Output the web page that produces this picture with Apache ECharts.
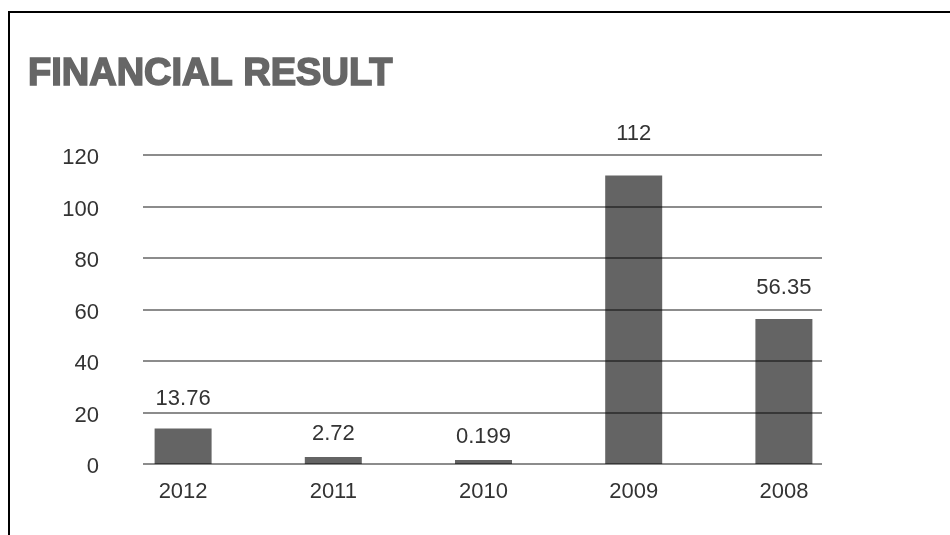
<!DOCTYPE html>
<html>
<head>
<meta charset="utf-8">
<script src="https://cdn.jsdelivr.net/npm/echarts@6/dist/echarts.min.js"></script>
<style>
  html, body { margin: 0; padding: 0; background: #fff; }
  #chart { width: 950px; height: 535px; }
</style>
</head>
<body>
<div id="chart"></div>
<script>
// Financial result by year
const years = ['2012', '2011', '2010', '2009', '2008'];
const results = [13.76, 2.72, 0.199, 112, 56.35];
const valueLabels = ['13.76', '2.72', '0.199', '112', '56.35'];
const yTicks = [0, 20, 40, 60, 80, 100, 120];

// gap between each bar top and its value label
const labelGaps = [19, 12, 12, 31, 20];

const chart = echarts.init(document.getElementById('chart'));
const textFont = 'Liberation Sans, Arial, sans-serif';

chart.setOption({
  animation: false,
  backgroundColor: '#fff',
  graphic: [
    { type: 'rect', shape: { x: 8, y: 11, width: 2, height: 530 }, style: { fill: '#000' } },
    { type: 'rect', shape: { x: 8, y: 11, width: 950, height: 2 }, style: { fill: '#000' } },
    {
      type: 'text', x: 28, y: 75,
      style: {
        text: 'FINANCIAL RESULT',
        font: 'bold 38px ' + textFont,
        fill: '#666',
        stroke: '#666',
        lineWidth: 1.6,
        verticalAlign: 'middle'
      }
    }
  ],
  grid: [
    { left: 143, right: 128, top: 155, bottom: 71 },
    { left: 108, right: 91, top: 155, bottom: 71 }
  ],
  xAxis: [
    { type: 'value', gridIndex: 0, show: false, min: 0, max: 1 },
    {
      type: 'category', gridIndex: 1, data: years,
      axisLine: { show: false }, axisTick: { show: false },
      axisLabel: { fontSize: 22, color: '#333', fontFamily: textFont, margin: 17 }
    }
  ],
  yAxis: [
    {
      type: 'value', gridIndex: 0, z: 5,
      min: yTicks[0], max: yTicks[yTicks.length - 1], interval: yTicks[1] - yTicks[0],
      axisLine: { show: false }, axisTick: { show: false },
      axisLabel: {
        margin: 44,
        formatter: '{t|{value}}',
        rich: { t: { fontSize: 22, color: '#333', fontFamily: textFont, padding: [6, 0, 0, 0] } }
      },
      splitLine: { show: true, lineStyle: { color: 'rgba(0,0,0,0.45)', width: 2 } }
    },
    {
      type: 'value', gridIndex: 1, show: false,
      min: yTicks[0], max: yTicks[yTicks.length - 1]
    }
  ],
  series: [{
    type: 'bar',
    xAxisIndex: 1, yAxisIndex: 1,
    barWidth: 57,
    barMinHeight: 4,
    itemStyle: { color: '#646464' },
    data: results.map((v, i) => ({
      value: v,
      label: {
        show: true, position: 'top', distance: labelGaps[i],
        formatter: valueLabels[i],
        fontSize: 22, color: '#333', fontFamily: textFont
      }
    }))
  }]
});
</script>
</body>
</html>
